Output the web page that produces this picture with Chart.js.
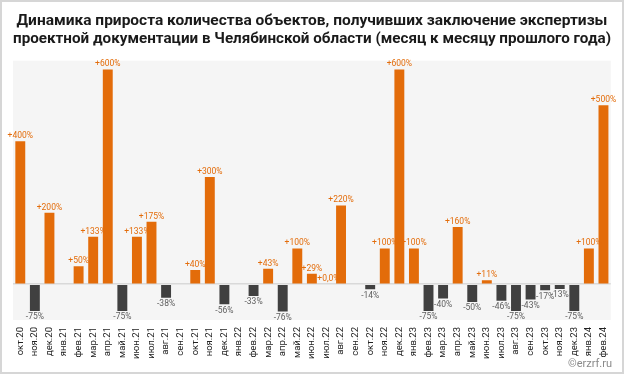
<!DOCTYPE html>
<html>
<head>
<meta charset="utf-8">
<script src="https://cdn.jsdelivr.net/npm/chart.js@4/dist/chart.umd.min.js"></script>
<style>
  html, body { margin: 0; padding: 0; background: #fff; }
  #wrap { position: relative; width: 624px; height: 374px; box-sizing: border-box; border: 2px solid #d6d6d6; }
  #chart { position: absolute; left: 0; top: 0; }
  #mark { position: absolute; right: 10px; bottom: 2px; font: 11px Roboto, sans-serif; color: #8a8a8a; }
</style>
</head>
<body>
<div id="wrap">
  <canvas id="chart" width="620" height="370"></canvas>
  <div id="mark">©erzrf.ru</div>
</div>
<script>
/* ===== DATA ===== */
const months = ['окт.20','ноя.20','дек.20','янв.21','фев.21','мар.21','апр.21','май.21','июн.21','июл.21','авг.21','сен.21',
  'окт.21','ноя.21','дек.21','янв.22','фев.22','мар.22','апр.22','май.22','июн.22','июл.22','авг.22','сен.22',
  'окт.22','ноя.22','дек.22','янв.23','фев.23','мар.23','апр.23','май.23','июн.23','июл.23','авг.23','сен.23',
  'окт.23','ноя.23','дек.23','янв.24','фев.24'];
const growth = [400,-75,200,null,50,133,600,-75,133,175,-38,null,
  40,300,-56,null,-33,43,-76,100,29,0,220,null,
  -14,100,600,100,-75,-40,160,-50,11,-46,-75,-43,
  -17,-13,-75,100,500];

const ORANGE = '#e36c0a';
const DARK = '#404040';

function fmt(v) {
  if (v === 0) return '+0,0%';
  return (v > 0 ? '+' : '') + v + '%';
}

/* ===== PLUGINS ===== */
const plotBg = {
  id: 'plotBg',
  beforeDraw(chart) {
    const { ctx, chartArea: a } = chart;
    ctx.save();
    ctx.fillStyle = '#f5f5f5';
    ctx.fillRect(a.left, a.top, a.right - a.left, a.bottom - a.top);
    ctx.restore();
  }
};

const barLabels = {
  id: 'barLabels',
  afterDatasetsDraw(chart) {
    const { ctx } = chart;
    const meta = chart.getDatasetMeta(0);
    ctx.save();
    ctx.font = '8.5px Roboto, sans-serif';
    ctx.textAlign = 'center';
    meta.data.forEach((bar, i) => {
      const v = growth[i];
      if (v === null) return;
      if (v >= 0) {
        ctx.fillStyle = ORANGE;
        ctx.textBaseline = 'bottom';
        ctx.fillText(fmt(v), bar.x + (v === 0 ? 2 : 0), bar.y - 1);
      } else {
        ctx.fillStyle = '#606060';
        ctx.textBaseline = 'top';
        ctx.fillText(fmt(v), bar.x, bar.y + 2);
      }
    });
    ctx.restore();
  }
};

/* ===== CHART ===== */
new Chart(document.getElementById('chart'), {
  type: 'bar',
  data: {
    labels: months,
    datasets: [{
      data: growth,
      backgroundColor: growth.map(v => v !== null && v < 0 ? DARK : ORANGE),
      categoryPercentage: 1,
      barPercentage: 0.68,
      borderWidth: 0
    }]
  },
  options: {
    responsive: false,
    animation: false,
    layout: { padding: { left: 11, right: 11, top: 0, bottom: 12 } },
    plugins: {
      legend: { display: false },
      tooltip: { enabled: false },
      title: {
        display: true,
        text: ['Динамика прироста количества объектов, получивших заключение экспертизы',
               'проектной документации в Челябинской области (месяц к месяцу прошлого года)'],
        color: '#1a1a1a',
        font: { family: 'Roboto', size: 15.5, weight: 'bold', lineHeight: 1.15 },
        padding: { top: 10, bottom: 13 }
      }
    },
    scales: {
      x: {
        afterFit(scale) { scale.height = 40; },
        grid: { display: false, drawTicks: false },
        border: { display: false },
        ticks: {
          color: '#222',
          font: { family: 'Roboto', size: 9.5 },
          minRotation: 90,
          maxRotation: 90,
          autoSkip: false,
          padding: 7
        }
      },
      y: {
        min: -100,
        max: 625,
        afterFit(scale) { scale.width = 0; },
        ticks: { display: false, stepSize: 25 },
        border: { display: false },
        grid: {
          drawTicks: false,
          color: ctx => ctx.tick && ctx.tick.value === 0 ? '#d9d9d9' : 'rgba(0,0,0,0)',
          lineWidth: 1.5
        }
      }
    }
  },
  plugins: [plotBg, barLabels]
});
</script>
</body>
</html>
